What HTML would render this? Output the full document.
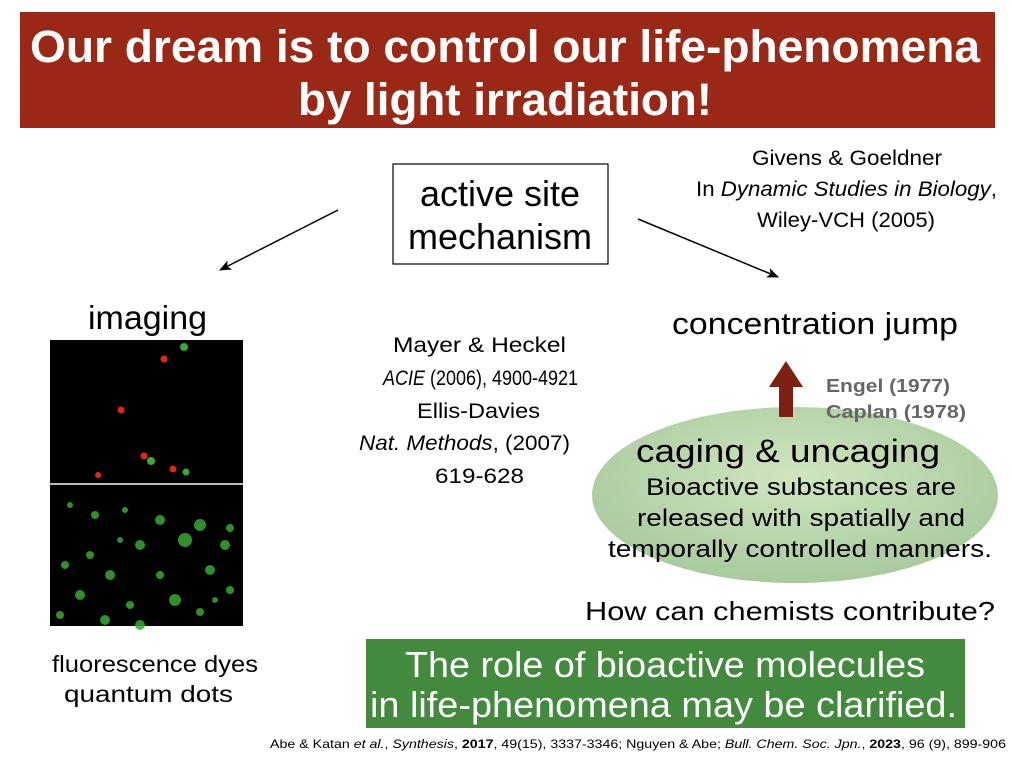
<!DOCTYPE html>
<html><head><meta charset="utf-8"><style>
body{margin:0;background:#fff;}
svg text{font-family:"Liberation Sans",Arial,sans-serif;}
</style></head><body>
<svg width="1012" height="755" viewBox="0 0 1012 755" xmlns="http://www.w3.org/2000/svg">
<defs>
<radialGradient id="eg" cx="50%" cy="40%" r="60%">
<stop offset="0" stop-color="#cfe6c0"/><stop offset="1" stop-color="#a9c99f"/>
</radialGradient>
<marker id="ah" markerWidth="12" markerHeight="10" refX="11" refY="5" orient="auto" markerUnits="userSpaceOnUse">
<path d="M0,0 L12,5 L0,10 L3,5 Z" fill="#000"/></marker>
</defs>
<rect x="20" y="12" width="975" height="116" fill="#992916"/>
<text x="30" y="62" font-size="45" font-weight="bold" fill="#fff" textLength="950" lengthAdjust="spacingAndGlyphs">Our dream is to control our life-phenomena</text>
<text x="298" y="115" font-size="45" font-weight="bold" fill="#fff" textLength="414" lengthAdjust="spacingAndGlyphs">by light irradiation!</text>

<rect x="393" y="164" width="215" height="100" fill="#fff" stroke="#000" stroke-width="1.2"/>
<text x="500" y="206" font-size="36" text-anchor="middle">active site</text>
<text x="500" y="249" font-size="36" text-anchor="middle">mechanism</text>

<line x1="338" y1="210" x2="220" y2="270" stroke="#000" stroke-width="1.5" marker-end="url(#ah)"/>
<line x1="638" y1="219" x2="778" y2="277" stroke="#000" stroke-width="1.5" marker-end="url(#ah)"/>

<text x="752" y="165" font-size="21" textLength="190" lengthAdjust="spacingAndGlyphs">Givens &amp; Goeldner</text>
<text x="696" y="196" font-size="21" textLength="301" lengthAdjust="spacingAndGlyphs">In <tspan font-style="italic">Dynamic Studies in Biology</tspan>,</text>
<text x="757" y="227" font-size="21" textLength="178" lengthAdjust="spacingAndGlyphs">Wiley-VCH (2005)</text>

<text x="88" y="329" font-size="33" textLength="119" lengthAdjust="spacingAndGlyphs">imaging</text>
<rect x="50" y="340" width="193" height="286" fill="#000"/>
<rect x="50" y="483" width="193" height="2" fill="#bbb"/>
<g fill="#e02a14"><circle cx="121" cy="410" r="3.5"/><circle cx="144" cy="456" r="3.5"/><circle cx="173" cy="469" r="3.5"/><circle cx="164" cy="359" r="3.5"/><circle cx="98" cy="475" r="3"/></g>
<g fill="#3ca83a"><circle cx="184" cy="347" r="4"/><circle cx="151" cy="461" r="4"/><circle cx="186" cy="472" r="3.5"/></g>
<g fill="#3aa836" opacity="0.85">
<circle cx="70" cy="505" r="3"/><circle cx="95" cy="515" r="4"/><circle cx="125" cy="510" r="3"/><circle cx="160" cy="520" r="5"/><circle cx="200" cy="525" r="6"/><circle cx="225" cy="545" r="5"/><circle cx="185" cy="540" r="7"/><circle cx="140" cy="545" r="5"/><circle cx="90" cy="555" r="4"/><circle cx="65" cy="565" r="4"/><circle cx="110" cy="575" r="5"/><circle cx="160" cy="575" r="4"/><circle cx="210" cy="570" r="5"/><circle cx="230" cy="590" r="4"/><circle cx="175" cy="600" r="6"/><circle cx="130" cy="605" r="4"/><circle cx="80" cy="595" r="5"/><circle cx="60" cy="615" r="4"/><circle cx="105" cy="620" r="5"/><circle cx="140" cy="625" r="5"/><circle cx="200" cy="612" r="4"/><circle cx="230" cy="528" r="4"/><circle cx="120" cy="540" r="3"/><circle cx="215" cy="600" r="3"/>
</g>
<text x="52" y="672" font-size="23" textLength="206" lengthAdjust="spacingAndGlyphs">fluorescence dyes</text>
<text x="64" y="702" font-size="23" textLength="169" lengthAdjust="spacingAndGlyphs">quantum dots</text>

<text x="393" y="352" font-size="21" textLength="173" lengthAdjust="spacingAndGlyphs">Mayer &amp; Heckel</text>
<text x="383" y="385" font-size="21" textLength="195" lengthAdjust="spacingAndGlyphs"><tspan font-style="italic">ACIE</tspan> (2006), 4900-4921</text>
<text x="417" y="418" font-size="21" textLength="123" lengthAdjust="spacingAndGlyphs">Ellis-Davies</text>
<text x="359" y="450" font-size="21" textLength="211" lengthAdjust="spacingAndGlyphs"><tspan font-style="italic">Nat. Methods</tspan>,  (2007)</text>
<text x="435" y="483" font-size="21" textLength="89" lengthAdjust="spacingAndGlyphs">619-628</text>

<text x="672" y="334" font-size="31" textLength="286" lengthAdjust="spacingAndGlyphs">concentration jump</text>

<ellipse cx="795" cy="495" rx="203" ry="88" fill="url(#eg)"/>
<polygon points="786,361 803,387 793,387 793,417 779,417 779,387 769,387" fill="#7d2112"/>
<text x="826" y="392" font-size="18" font-weight="bold" fill="#666" textLength="124" lengthAdjust="spacingAndGlyphs">Engel (1977)</text>
<text x="826" y="418" font-size="18" font-weight="bold" fill="#666" textLength="140" lengthAdjust="spacingAndGlyphs">Caplan (1978)</text>
<text x="636" y="462" font-size="32" textLength="304" lengthAdjust="spacingAndGlyphs">caging &amp; uncaging</text>
<text x="646" y="495" font-size="24" textLength="310" lengthAdjust="spacingAndGlyphs">Bioactive substances are</text>
<text x="637" y="526" font-size="24" textLength="328" lengthAdjust="spacingAndGlyphs">released with spatially and</text>
<text x="608" y="557" font-size="24" textLength="384" lengthAdjust="spacingAndGlyphs">temporally controlled manners.</text>

<text x="585" y="620" font-size="26" textLength="410" lengthAdjust="spacingAndGlyphs">How can chemists contribute?</text>
<rect x="366" y="639" width="599" height="89" fill="#448a3e"/>
<text x="405" y="677" font-size="36" fill="#fff" textLength="520" lengthAdjust="spacingAndGlyphs">The role of bioactive molecules</text>
<text x="370" y="717" font-size="36" fill="#fff" textLength="587" lengthAdjust="spacingAndGlyphs">in life-phenomena may be clarified.</text>
<text x="270" y="748" font-size="12" textLength="736" lengthAdjust="spacingAndGlyphs">Abe &amp; Katan <tspan font-style="italic">et al.</tspan>, <tspan font-style="italic">Synthesis</tspan>, <tspan font-weight="bold">2017</tspan>, 49(15), 3337-3346; Nguyen &amp; Abe; <tspan font-style="italic">Bull. Chem. Soc. Jpn.</tspan>, <tspan font-weight="bold">2023</tspan>, 96 (9), 899-906</text>
</svg>
</body></html>
